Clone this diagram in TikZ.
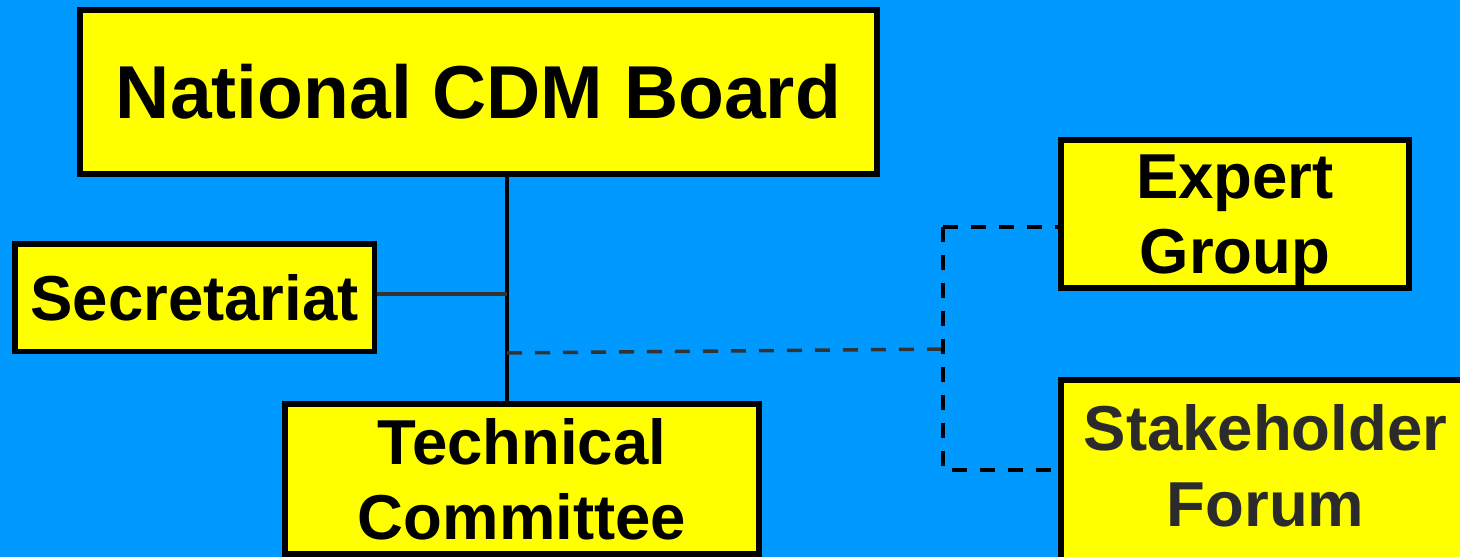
\documentclass[tikz,border=0pt]{standalone}
\usepackage{fontspec}
\setmainfont{Liberation Sans}
\definecolor{skyblue}{HTML}{0099FF}
\definecolor{boxyellow}{HTML}{FFFF00}
\definecolor{darkline}{HTML}{333333}
\definecolor{darktext}{HTML}{2B2B2B}
\begin{document}
\begin{tikzpicture}[x=1pt,y=-1pt,
  orgbox/.style={draw=black, line width=5.5pt, fill=boxyellow, inner sep=0pt,
    align=center, font=\bfseries\fontsize{63.5}{75}\selectfont},
  bigtext/.style={font=\bfseries\fontsize{75}{90}\selectfont},
  solidlink/.style={line width=3.5pt},
  dashlink/.style={line width=3.5pt, dash pattern=on 15pt off 13pt, line join=miter}]
  % canvas
  \useasboundingbox (0,0) rectangle (1460,557);
  \clip (0,0) rectangle (1460,557);
  \fill[skyblue] (0,0) rectangle (1460,557);

  % boxes
  \node[orgbox, bigtext, minimum width=797pt, minimum height=164pt] (board) at (478.5,92) {National CDM Board};
  \node[orgbox, minimum width=359.5pt, minimum height=107.5pt] (sec) at (194.5,297.5) {Secretariat};
  \node[orgbox, text depth=0pt, minimum width=474pt, minimum height=150pt] (tech) at (522,479) {Technical\\Committee};
  \node[orgbox, text depth=0pt, minimum width=348pt, minimum height=148pt] (expert) at (1235,214) {Expert\\Group};
  \node[orgbox, text=darktext, text depth=30pt, minimum width=409pt, minimum height=201pt,
    font=\bfseries\fontsize{63.5}{76}\selectfont] (stake) at (1265.5,480.5) {Stakeholder\\Forum};

  % reference points for the connectors
  \coordinate (spine) at (507,0);
  \coordinate (secport) at (374,294);
  \coordinate (tee) at (507,353);
  \coordinate (hub) at (943,349);
  \coordinate (bt) at (943,227);
  \coordinate (bb) at (943,470);

  % solid hierarchy lines
  \draw[solidlink] (spine |- board.south) -- (spine |- tech.north);
  \draw[solidlink, darkline] (sec.east |- secport) -- (spine |- secport);

  % dashed advisory links
  \draw[dashlink, darkline] (tee) -- (hub);
  \draw[dashlink] (bt) -- (expert.west |- bt);
  \draw[dashlink] (bt) -- (bb) -- (stake.west |- bb);
\end{tikzpicture}
\end{document}
